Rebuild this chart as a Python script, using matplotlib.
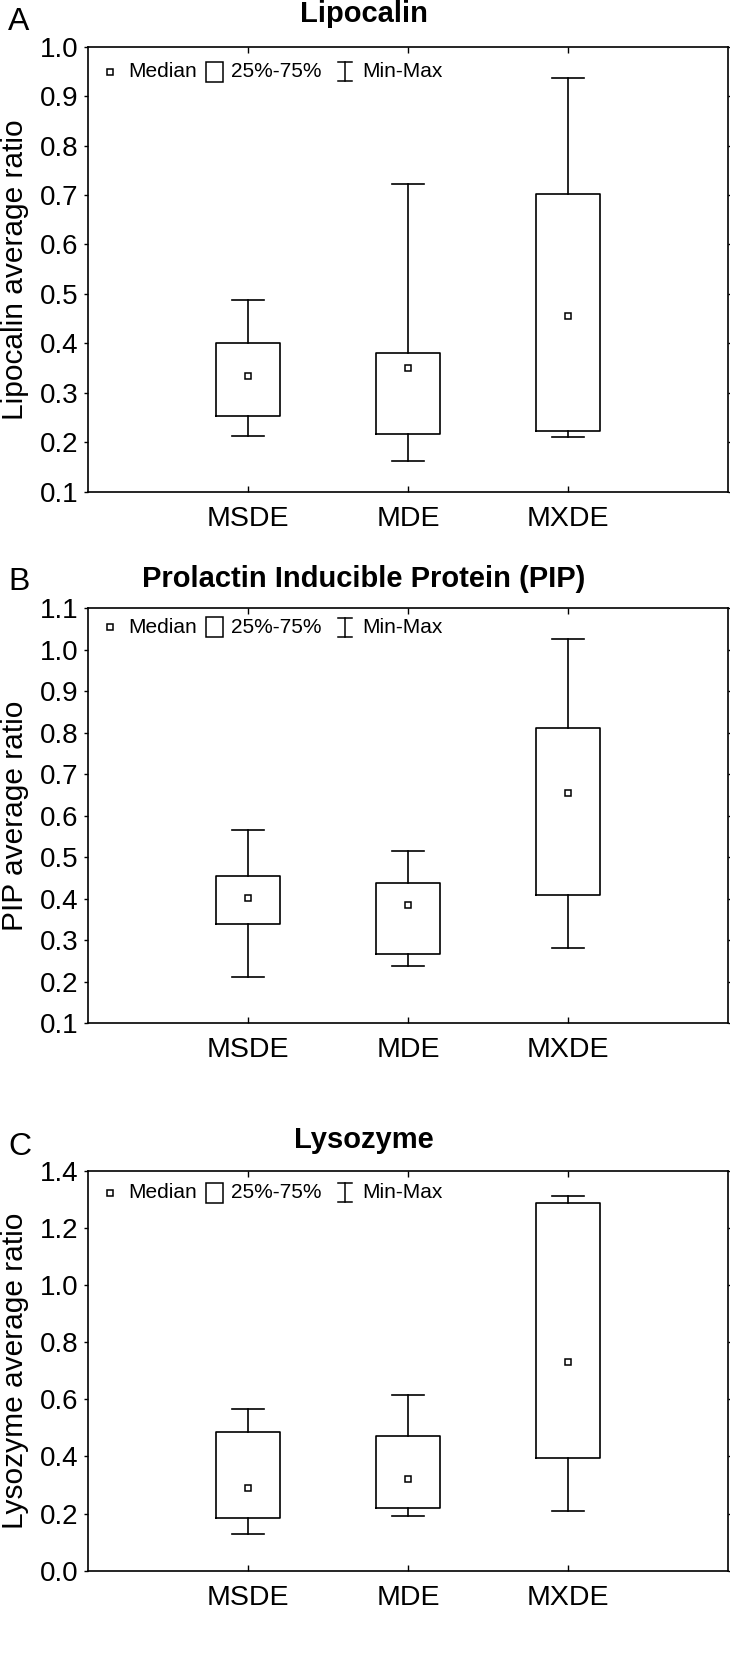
import numpy as np
import matplotlib
matplotlib.use("Agg")
import matplotlib.pyplot as plt
import matplotlib.transforms as mtransforms
from matplotlib.patches import Rectangle

plt.rcParams['font.family'] = ['Liberation Sans', 'DejaVu Sans']

groups = ["MSDE", "MDE", "MXDE"]

# min, q1, median, q3, max per group
lipo_min = [0.213, 0.163, 0.210]
lipo_q1 = [0.253, 0.216, 0.222]
lipo_med = [0.333, 0.351, 0.456]
lipo_q3 = [0.401, 0.380, 0.703]
lipo_max = [0.487, 0.722, 0.937]

pip_min = [0.212, 0.237, 0.282]
pip_q1 = [0.339, 0.268, 0.408]
pip_med = [0.401, 0.384, 0.654]
pip_q3 = [0.455, 0.439, 0.812]
pip_max = [0.566, 0.514, 1.025]

lyso_min = [0.128, 0.190, 0.209]
lyso_q1 = [0.186, 0.219, 0.396]
lyso_med = [0.291, 0.320, 0.732]
lyso_q3 = [0.484, 0.473, 1.288]
lyso_max = [0.565, 0.614, 1.311]

panels = [
    ("A", "Lipocalin", "Lipocalin average ratio",
     (lipo_min, lipo_q1, lipo_med, lipo_q3, lipo_max), (0.1, 1.0), np.arange(0.1, 1.01, 0.1)),
    ("B", "Prolactin Inducible Protein (PIP)", "PIP average ratio",
     (pip_min, pip_q1, pip_med, pip_q3, pip_max), (0.1, 1.1), np.arange(0.1, 1.11, 0.1)),
    ("C", "Lysozyme", "Lysozyme average ratio",
     (lyso_min, lyso_q1, lyso_med, lyso_q3, lyso_max), (0.0, 1.4), np.arange(0.0, 1.41, 0.2)),
]

W, H = 730, 1662
fig = plt.figure(figsize=(W / 100, H / 100), dpi=100)

# axes boxes in pixels: (top, bottom)
ax_px = [(46.7, 491.7), (608.3, 1023.3), (1170.7, 1570.7)]
ax_left, ax_right = 88, 728
label_base = [30, 590, 1155]
title_base = [22, 587, 1148]
leg_off = [25, 19, 22]

def draw_legend(ax, dy):
    tr = mtransforms.ScaledTranslation(0, 1, ax.transAxes)
    ax.plot([22], [-dy], marker='s', ms=4.5, mfc='white', mec='black', mew=1.1,
            transform=tr, clip_on=False)
    ax.text(40, -dy, "Median", transform=tr, fontsize=15, va='center', ha='left')
    ax.add_patch(Rectangle((118, -dy - 10), 17, 20, transform=tr, fill=False,
                           lw=1.1, ec='black', clip_on=False))
    ax.text(143, -dy, "25%-75%", transform=tr, fontsize=15, va='center', ha='left')
    ax.plot([257, 257], [-dy - 9.5, -dy + 9.5], color='black', lw=1.1, transform=tr, clip_on=False)
    ax.plot([250, 264], [-dy - 9.5, -dy - 9.5], color='black', lw=1.1, transform=tr, clip_on=False)
    ax.plot([250, 264], [-dy + 9.5, -dy + 9.5], color='black', lw=1.1, transform=tr, clip_on=False)
    ax.text(274, -dy, "Min-Max", transform=tr, fontsize=15, va='center', ha='left')

for i, (letter, title, ylab, vals, ylim, yticks) in enumerate(panels):
    top, bot = ax_px[i]
    ax = fig.add_axes([ax_left / W, 1 - bot / H, (ax_right - ax_left) / W, (bot - top) / H])
    mn, q1, med, q3, mx = vals
    stats = []
    for j in range(len(groups)):
        stats.append(dict(whislo=mn[j], q1=q1[j], med=med[j], q3=q3[j], whishi=mx[j],
                          mean=med[j], fliers=[], label=groups[j]))
    ax.bxp(stats, positions=[1, 2, 3], widths=0.4, capwidths=0.2, showmeans=True,
           showfliers=False, patch_artist=False,
           boxprops=dict(color='black', lw=1.2),
           whiskerprops=dict(color='black', lw=1.2),
           capprops=dict(color='black', lw=1.2),
           medianprops=dict(lw=0),
           meanprops=dict(marker='s', markersize=4.5, markerfacecolor='white',
                          markeredgecolor='black', markeredgewidth=1.1))
    ax.set_xlim(0, 4)
    ax.set_ylim(*ylim)
    ax.set_yticks(yticks)
    ax.set_yticklabels(["%.1f" % t for t in yticks])
    ax.set_xticks([1, 2, 3])
    ax.set_xticklabels(groups)
    for s in ax.spines.values():
        s.set_linewidth(1.2)
    ax.tick_params(axis='y', which='both', left=True, right=True, direction='out',
                   length=3, width=1, labelsize=20, pad=4)
    ax.tick_params(axis='y', right=True, direction='in')
    ax.tick_params(axis='y', left=True, direction='out', length=3)
    ax.tick_params(axis='x', top=True, bottom=True, direction='in', length=4,
                   width=1, labelsize=20.5, pad=10)
    ax.set_ylabel(ylab, fontsize=21.5)
    ax.yaxis.set_label_coords(-0.092, 0.5)
    draw_legend(ax, leg_off[i])
    fig.text(8 / W, 1 - label_base[i] / H, letter, fontsize=23, ha='left', va='baseline')
    fig.text(364 / W, 1 - title_base[i] / H, title, fontsize=21, fontweight='bold',
             ha='center', va='baseline')

fig.savefig("out.png", dpi=100)
